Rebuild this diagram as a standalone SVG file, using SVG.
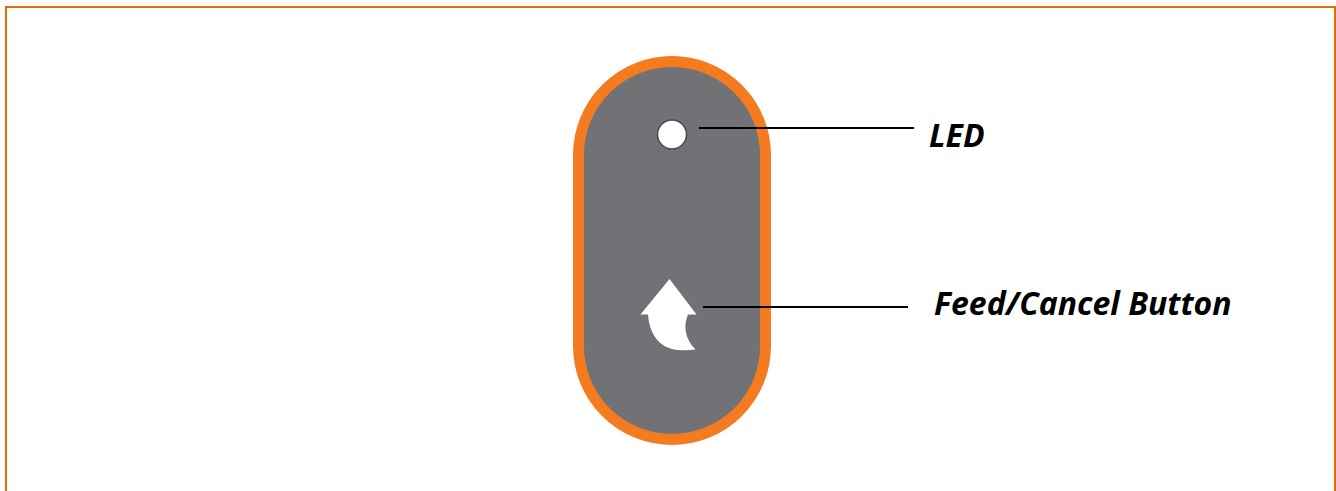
<svg xmlns="http://www.w3.org/2000/svg" width="1336" height="491" viewBox="0 0 1336 491">
<style>
.l{font-family:"Open Sans","Noto Sans",sans-serif;font-size:32px;font-weight:700;font-style:italic;fill:#000}
.c{stroke:#000;stroke-width:2;fill:none}
</style>
<rect width="1336" height="491" fill="#fff"/>
<path d="M6 491V7H1335V491" fill="none" stroke="#e36c0a" stroke-width="2"/>
<g id="device">
<rect x="578.500" y="61.500" width="187" height="378" rx="93.500" fill="#717275" stroke="#f47b20" stroke-width="11"/>
</g>
<g id="led">
<circle cx="672" cy="134.500" r="14.500" fill="#fff" stroke="#4a4a4c" stroke-width="1.500"/>
</g>
<g id="button">
<path d="M669.500 279L640.500 314.500H648C649 327 653 338 663 345C672 351 685 351 695.500 349.500C685 339 683 326 688 314.500H696.500Z" fill="#fff"/>
</g>
<g id="connectors">
<path class="c" d="M699 128H914"/>
<path class="c" d="M703 307H908"/>
</g>
<g id="label-led"><text class="l" x="929" y="147">LED</text></g>
<g id="label-button"><text class="l" x="934" y="315">Feed/Cancel Button</text></g>
</svg>
